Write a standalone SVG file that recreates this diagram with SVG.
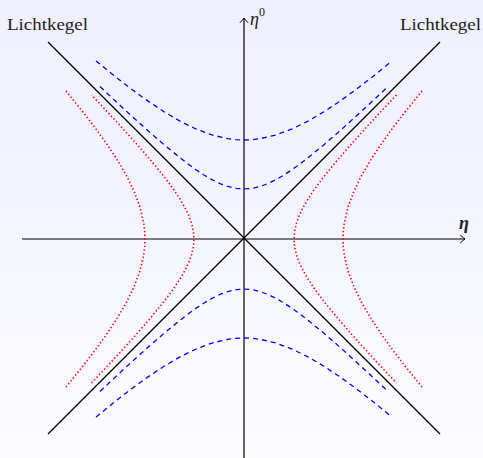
<svg xmlns="http://www.w3.org/2000/svg" xmlns:xlink="http://www.w3.org/1999/xlink" width="483" height="458" viewBox="0 0 483 458">
<defs>
<linearGradient id="bg" x1="0" y1="0" x2="0" y2="1">
<stop offset="0" stop-color="#efefff"/>
<stop offset="1" stop-color="#fcfcff"/>
</linearGradient>
<marker id="arr" viewBox="-6 -5 8 10" markerWidth="8" markerHeight="10" refX="0" refY="0" orient="auto" markerUnits="userSpaceOnUse">
<path d="M-4.5,-3.8 Q-1.2,-0.8 0,0 Q-1.2,0.8 -4.5,3.8" fill="none" stroke="#000" stroke-width="1" stroke-linecap="round"/>
</marker>
<path id="hypOuter" d="M-148,-178.06 L-128,-161.82 L-112,-149.48 L-96,-137.9 L-80,-127.28 L-64,-117.89 L-48,-110.02 L-32,-104.04 L-16,-100.28 L-8,-99.32 L0,-99 L8,-99.32 L16,-100.28 L32,-104.04 L48,-110.02 L64,-117.89 L80,-127.28 L96,-137.9 L112,-149.48 L128,-161.82 L148,-178.06"/>
<path id="hypInner" d="M-144,-152.43 L-128,-137.42 L-112,-122.65 L-96,-108.24 L-80,-94.34 L-64,-81.22 L-56,-75.07 L-48,-69.31 L-40,-64.03 L-32,-59.36 L-24,-55.46 L-16,-52.5 L-8,-50.64 L0,-50 L8,-50.64 L16,-52.5 L24,-55.46 L32,-59.36 L40,-64.03 L48,-69.31 L56,-75.07 L64,-81.22 L80,-94.34 L96,-108.24 L112,-122.65 L128,-137.42 L144,-152.43"/>
</defs>
<style>
.axis{stroke:#000;stroke-width:1.2;fill:none}
.cone{stroke:#000;stroke-width:1.3;fill:none}
.blue{stroke:#0000ff;stroke-width:1.3;fill:none;stroke-dasharray:5 4}
.red{stroke:#ff0000;stroke-width:1.6;fill:none;stroke-dasharray:1.4 2.3}
.lbl{fill:#222}
</style>
<rect x="0" y="0" width="483" height="458" fill="url(#bg)"/>
<g id="connectors">
<line class="axis" x1="22" y1="239" x2="465" y2="239" marker-end="url(#arr)"/>
<line class="axis" x1="244" y1="458" x2="244" y2="18" marker-end="url(#arr)"/>
<line class="cone" x1="48" y1="42" x2="440" y2="434"/>
<line class="cone" x1="440" y1="42" x2="48" y2="434"/>
</g>
<g id="hyperbolas-time">
<use xlink:href="#hypOuter" class="blue" transform="translate(244,239)"/>
<use xlink:href="#hypInner" class="blue" transform="translate(244,239)"/>
<use xlink:href="#hypOuter" class="blue" transform="translate(244,239) scale(1,-1)"/>
<use xlink:href="#hypInner" class="blue" transform="translate(244,239) scale(1,-1)"/>
</g>
<g id="hyperbolas-space">
<use xlink:href="#hypOuter" class="red" transform="translate(244,239) rotate(-90)"/>
<use xlink:href="#hypInner" class="red" transform="translate(244,239) rotate(-90)"/>
<use xlink:href="#hypOuter" class="red" transform="translate(244,239) rotate(90)"/>
<use xlink:href="#hypInner" class="red" transform="translate(244,239) rotate(90)"/>
</g>
<g id="labels" font-family="Liberation Serif, Times New Roman, serif">
<text class="lbl" x="7" y="30" font-size="17" textLength="81" lengthAdjust="spacingAndGlyphs">Lichtkegel</text>
<text class="lbl" x="400" y="30" font-size="17" textLength="81" lengthAdjust="spacingAndGlyphs">Lichtkegel</text>
<text class="lbl" x="250" y="25" font-size="18" font-style="italic">η<tspan font-size="12" font-style="normal" dy="-9">0</tspan></text>
<text class="lbl" x="459" y="229" font-size="18" font-style="italic" font-weight="bold">η</text>
</g>
</svg>
